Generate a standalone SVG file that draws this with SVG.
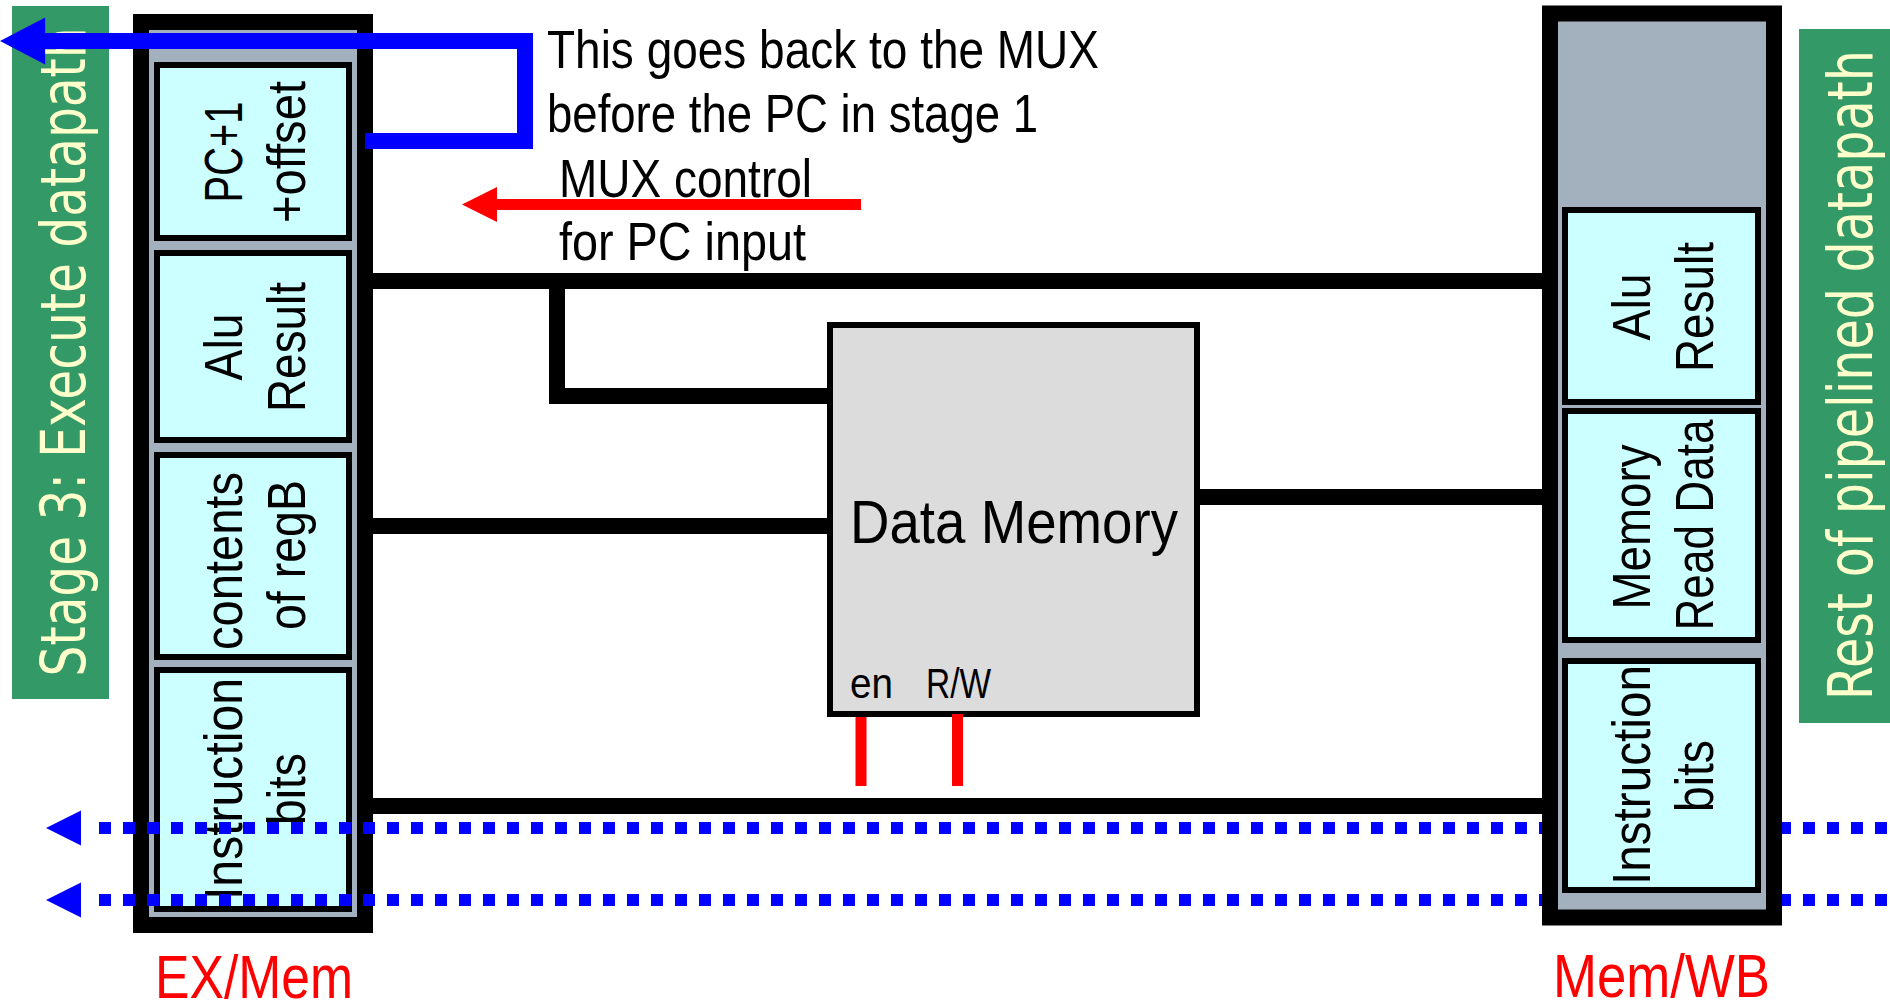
<svg xmlns="http://www.w3.org/2000/svg" width="1890" height="1007" viewBox="0 0 1890 1007">
  <style>
    .banner { fill: #339966; }
    .bannerText { fill: #ffffcc; font-family: "DejaVu Sans", "Liberation Sans", sans-serif; font-size: 62px; }
    .reg { fill: #a3b1bf; stroke: #000; stroke-width: 16; }
    .cell { fill: #ccffff; stroke: #000; stroke-width: 6; }
    .lbl { font-family: "Liberation Sans Narrow", "Liberation Sans", Arial, sans-serif; fill: #000; }
    .cellText { font-size: 54px; text-anchor: middle; }
    .note { font-size: 53px; }
    .regName { font-size: 62px; fill: #ff0000; }
    .wire { fill: none; stroke: #000; stroke-width: 16; }
    .fb { fill: none; stroke: #0000ff; stroke-width: 16; stroke-linejoin: miter; }
    .dots { fill: none; stroke: #0000ff; stroke-width: 12; stroke-dasharray: 12 12; }
    .ctrl { fill: none; stroke: #ff0000; stroke-width: 11; }
    .blue { fill: #0000ff; }
    .red { fill: #ff0000; }
  </style>
  <defs>
    <!-- left-pointing arrowhead, tip at the origin -->
    <path id="head" d="M0,0 L35,-17.5 L35,17.5 Z"/>
  </defs>

  <rect width="1890" height="1007" fill="#ffffff"/>

  <!-- side banners -->
  <g id="stage3-banner">
    <rect class="banner" x="12" y="6" width="97" height="693"/>
    <text class="bannerText" transform="translate(85,352) rotate(-90)" text-anchor="middle" textLength="649" lengthAdjust="spacingAndGlyphs">Stage 3: Execute datapath</text>
  </g>
  <g id="rest-banner">
    <rect class="banner" x="1799" y="29" width="91" height="694"/>
    <text class="bannerText" transform="translate(1872,375) rotate(-90)" text-anchor="middle" textLength="650" lengthAdjust="spacingAndGlyphs">Rest of pipelined datapath</text>
  </g>

  <!-- EX/Mem pipeline register -->
  <g id="ex-mem">
    <rect class="reg" x="141" y="22" width="224" height="903"/>
    <rect class="cell" x="157" y="65" width="192" height="173"/>
    <rect class="cell" x="157" y="253" width="192" height="187"/>
    <rect class="cell" x="157" y="455" width="192" height="202"/>
    <rect class="cell" x="157" y="670" width="192" height="239"/>
    <g class="lbl cellText">
      <text transform="translate(242,152) rotate(-90)" textLength="101" lengthAdjust="spacingAndGlyphs">PC+1</text>
      <text transform="translate(305,152) rotate(-90)" textLength="142" lengthAdjust="spacingAndGlyphs">+offset</text>
      <text transform="translate(242,347) rotate(-90)" textLength="67" lengthAdjust="spacingAndGlyphs">Alu</text>
      <text transform="translate(305,347) rotate(-90)" textLength="130" lengthAdjust="spacingAndGlyphs">Result</text>
      <text transform="translate(242,561) rotate(-90)" textLength="178" lengthAdjust="spacingAndGlyphs">contents</text>
      <text transform="translate(305,555) rotate(-90)" textLength="150" lengthAdjust="spacingAndGlyphs">of regB</text>
      <text transform="translate(242,789) rotate(-90)" textLength="222" lengthAdjust="spacingAndGlyphs">Instruction</text>
      <text transform="translate(305,789) rotate(-90)" textLength="72" lengthAdjust="spacingAndGlyphs">bits</text>
    </g>
    <text class="lbl regName" x="155" y="998" textLength="198" lengthAdjust="spacingAndGlyphs">EX/Mem</text>
  </g>

  <!-- data memory block -->
  <g id="data-memory">
    <rect x="830" y="325" width="367" height="389" fill="#dcdcdc" stroke="#000" stroke-width="6"/>
    <text class="lbl" x="850" y="543" font-size="61" textLength="328" lengthAdjust="spacingAndGlyphs">Data Memory</text>
    <text class="lbl" x="850" y="698" font-size="42" textLength="43" lengthAdjust="spacingAndGlyphs">en</text>
    <text class="lbl" x="926" y="698" font-size="42" textLength="65" lengthAdjust="spacingAndGlyphs">R/W</text>
  </g>

  <!-- wires -->
  <g id="connectors">
    <path class="wire" d="M373,281 H1542"/>
    <path class="wire" d="M557,281 V396 H827"/>
    <path class="wire" d="M373,526 H827"/>
    <path class="wire" d="M1200,497 H1542"/>
    <path class="wire" d="M373,806 H1542"/>

    <!-- branch target back to stage 1 -->
    <path class="fb" d="M365,141 H525 V41 H44"/>
    <use href="#head" class="blue" transform="translate(0,41) scale(1.29,1.34)"/>

    <!-- PC mux control -->
    <path class="ctrl" d="M861,204.5 H494"/>
    <use href="#head" class="red" transform="translate(462,204.5)"/>

    <!-- memory control inputs -->
    <path class="ctrl" d="M861,717 V786" stroke-width="12"/>
    <path class="ctrl" d="M957.5,714 V786" stroke-width="12"/>

    <!-- control signals passed back along the pipeline -->
    <path class="dots" d="M99,828 H1890"/>
    <path class="dots" d="M99,900 H1890"/>
    <use href="#head" class="blue" transform="translate(46,828)"/>
    <use href="#head" class="blue" transform="translate(46,900)"/>
  </g>

  <!-- Mem/WB pipeline register -->
  <g id="mem-wb">
    <rect class="reg" x="1550" y="13.5" width="224" height="904"/>
    <rect class="cell" x="1565" y="210" width="193" height="192"/>
    <rect class="cell" x="1565" y="411" width="193" height="229"/>
    <rect class="cell" x="1565" y="661" width="193" height="229"/>
    <g class="lbl cellText">
      <text transform="translate(1650,307) rotate(-90)" textLength="67" lengthAdjust="spacingAndGlyphs">Alu</text>
      <text transform="translate(1713,307) rotate(-90)" textLength="130" lengthAdjust="spacingAndGlyphs">Result</text>
      <text transform="translate(1650,527) rotate(-90)" textLength="165" lengthAdjust="spacingAndGlyphs">Memory</text>
      <text transform="translate(1713,525) rotate(-90)" textLength="211" lengthAdjust="spacingAndGlyphs">Read Data</text>
      <text transform="translate(1650,775) rotate(-90)" textLength="220" lengthAdjust="spacingAndGlyphs">Instruction</text>
      <text transform="translate(1713,776) rotate(-90)" textLength="72" lengthAdjust="spacingAndGlyphs">bits</text>
    </g>
    <text class="lbl regName" x="1553" y="997" textLength="217" lengthAdjust="spacingAndGlyphs">Mem/WB</text>
  </g>

  <!-- annotations -->
  <g id="notes" class="lbl note">
    <text x="547" y="68" textLength="552" lengthAdjust="spacingAndGlyphs">This goes back to the MUX</text>
    <text x="547" y="132" textLength="491" lengthAdjust="spacingAndGlyphs">before the PC in stage 1</text>
    <text x="559" y="197" textLength="253" lengthAdjust="spacingAndGlyphs">MUX control</text>
    <text x="559" y="260" textLength="247" lengthAdjust="spacingAndGlyphs">for PC input</text>
  </g>
</svg>
